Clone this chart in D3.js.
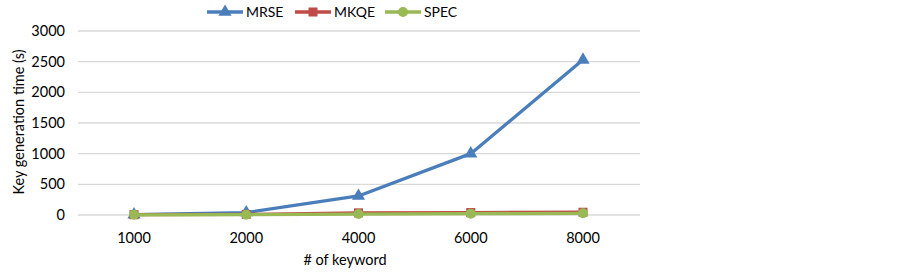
<!DOCTYPE html>
<html><head><meta charset="utf-8">
<script src="https://cdn.jsdelivr.net/npm/d3@7"></script>
<style>body{margin:0;background:#fff}svg{display:block}text{font-family:Lato,"Open Sans",sans-serif}</style>
</head><body>
<svg id="c" width="903" height="274"></svg>
<script>
const categories = ["1000","2000","4000","6000","8000"];
const mrse = [5, 40, 310, 1000, 2530];
const mkqe = [5, 10, 35, 40, 45];
const spec = [3, 5, 15, 22, 28];
const yTicks = [0,500,1000,1500,2000,2500,3000];

const svg = d3.select("#c");
const x = d3.scalePoint().domain(categories).range([134, 583]);
const y = d3.scaleLinear().domain([0,3000]).range([215, 31]);

svg.append("g").selectAll("line").data(yTicks).join("line")
  .attr("x1",78).attr("x2",640).attr("y1",d=>y(d)).attr("y2",d=>y(d))
  .attr("stroke","#d9d9d9").attr("stroke-width",1.3);

svg.append("g").selectAll("text").data(yTicks).join("text")
  .attr("x",65).attr("y",d=>y(d)+5).attr("text-anchor","end")
  .attr("font-size",14.5).attr("fill","#000").text(d=>d);

svg.append("g").selectAll("text").data(categories).join("text")
  .attr("x",d=>x(d)).attr("y",243).attr("text-anchor","middle")
  .attr("font-size",14.5).attr("fill","#000").text(d=>d);

svg.append("text").attr("transform","translate(24,122) rotate(-90)")
  .attr("text-anchor","middle").attr("font-size",14.5).text("Key generation time (s)");
svg.append("text").attr("x",345).attr("y",265).attr("text-anchor","middle")
  .attr("font-size",14.5).text("# of keyword");

const series = [
  {name:"MRSE", vals:mrse, color:"#4a7ebb", shape:"tri"},
  {name:"MKQE", vals:mkqe, color:"#be4b48", shape:"sq"},
  {name:"SPEC", vals:spec, color:"#98b954", shape:"circ"}
];
const line = d3.line().x((d,i)=>x(categories[i])).y(d=>y(d));
function marker(g, shape, color, cx, cy){
  if(shape==="tri") g.append("path").attr("d",d3.symbol(d3.symbolTriangle,75)()).attr("transform",`translate(${cx},${cy})`).attr("fill",color);
  else if(shape==="sq") g.append("rect").attr("x",cx-4.5).attr("y",cy-4.5).attr("width",9).attr("height",9).attr("fill",color);
  else g.append("circle").attr("cx",cx).attr("cy",cy).attr("r",5).attr("fill",color);
}
series.forEach(s=>{
  const g = svg.append("g");
  g.append("path").datum(s.vals).attr("d",line).attr("fill","none").attr("stroke",s.color).attr("stroke-width",3.3).attr("stroke-linejoin","round");
  s.vals.forEach((v,i)=>marker(g,s.shape,s.color,x(categories[i]),y(v)));
});

const legX = [207, 295, 385];
series.forEach((s,i)=>{
  const g = svg.append("g");
  g.append("line").attr("x1",legX[i]).attr("x2",legX[i]+36).attr("y1",12).attr("y2",12).attr("stroke",s.color).attr("stroke-width",3.3);
  marker(g,s.shape,s.color,legX[i]+18,12);
  g.append("text").attr("x",legX[i]+39).attr("y",17).attr("font-size",14)
   .attr("font-family","'Liberation Sans',Arial,sans-serif").text(s.name);
});
</script>
</body></html>
